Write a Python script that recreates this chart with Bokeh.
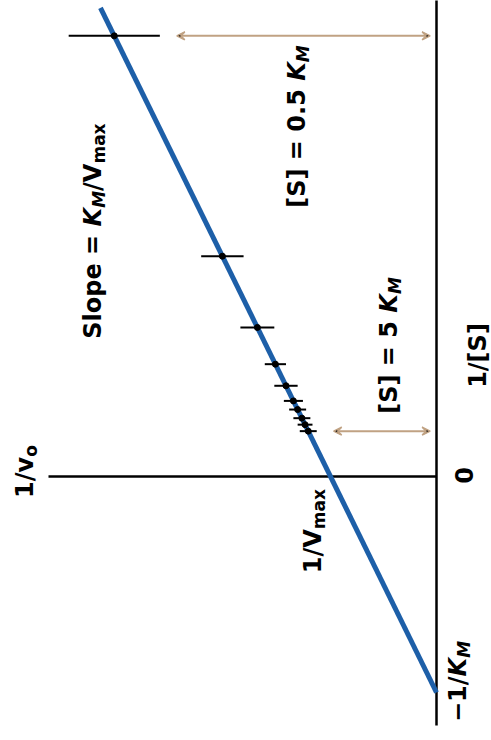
import math
from bokeh.plotting import figure
from bokeh.models import Range1d, Label, Arrow, VeeHead, ColumnDataSource
from bokeh.embed import file_html
from bokeh.resources import INLINE

# ---- data (Lineweaver-Burk plot, units where K_M = 1, V_max = 1) ----
inv_S = [2.04, 1.02, 0.69, 0.52, 0.42, 0.35, 0.31, 0.27, 0.24, 0.21]   # 1/[S]
inv_v = [3.04, 2.02, 1.69, 1.52, 1.42, 1.35, 1.31, 1.27, 1.24, 1.21]   # 1/v0
err_v = [0.43, 0.20, 0.16, 0.10, 0.11, 0.09, 0.08, 0.08, 0.07, 0.08]   # error on 1/v0
fit_inv_S = [-1.0, 2.17]
fit_inv_v = [0.0, 3.17]

BLUE = "#1d5fa8"
TAN = "#c0a283"

# The chart is drawn rotated: 1/v0 runs to the left, 1/[S] runs upward.
W_PX, H_PX = 491, 740
p = figure(width=W_PX, height=H_PX, output_backend="svg", toolbar_location=None,
           x_range=Range1d(436 / 106.0, (436 - W_PX) / 106.0),
           y_range=Range1d((476 - H_PX) / 216.0, 476 / 216.0),
           x_axis_location=None, y_axis_location=None, min_border=0)
p.grid.visible = False
p.outline_line_color = None
p.background_fill_color = "white"
p.border_fill_color = "white"

def P(X, Y):
    """reference pixel -> data (1/v0, 1/[S])"""
    return (436 - X) / 106.0, (476 - Y) / 216.0

# axes
_, u_bot = P(0, 725)
w_left, _ = P(48, 0)
p.segment(x0=[0], y0=[u_bot], x1=[0], y1=[2.3], line_color="black", line_width=2.5)
p.segment(x0=[0], y0=[0], x1=[w_left], y1=[0], line_color="black", line_width=2.5)

# fitted line
p.line(fit_inv_v, fit_inv_S, line_color=BLUE, line_width=5)

# error bars + points
src = ColumnDataSource(dict(
    u=inv_S, w=inv_v,
    lo=[v - e for v, e in zip(inv_v, err_v)],
    hi=[v + e for v, e in zip(inv_v, err_v)],
))
p.segment(x0="lo", y0="u", x1="hi", y1="u", source=src, line_color="black", line_width=2)
p.scatter("w", "u", source=src, size=6, color="black")

# double-headed arrows marking [S] = 0.5 K_M and [S] = 5 K_M
gap = 0.16
for k in (0, len(inv_S) - 1):
    p.add_layout(Arrow(
        start=VeeHead(size=8, line_color=TAN, line_width=1.5),
        end=VeeHead(size=8, line_color=TAN, line_width=1.5),
        x_start=inv_v[k] - err_v[k] - gap, y_start=inv_S[k],
        x_end=0.06, y_end=inv_S[k],
        line_color=TAN, line_width=2))

# ---- rotated rich text labels ----
ADV = {' ': 0.348, '1': 0.696, '0': 0.696, '5': 0.696, '/': 0.365, '[': 0.457, ']': 0.457,
       '=': 0.838, '.': 0.380, 'S': 0.720, 'l': 0.343, 'o': 0.687, 'p': 0.716, 'e': 0.678,
       'K': 0.775, 'M': 0.995, 'V': 0.774, 'm': 1.042, 'a': 0.675, 'x': 0.712, 'v': 0.652,
       '\u2212': 0.838}
FS, FSUB, SUBSHIFT = 24, 17, 6
FONT = "DejaVu Sans"
BASE_FIX = -9   # rendered baseline sits a little lower than the anchor

def width(t, size):
    return sum(ADV.get(c, 0.6) for c in t) * size

def rich(parts, X, Yc):
    total = sum(width(t, FSUB if sub else FS) for t, it, sub in parts)
    Y = Yc + total / 2.0
    for t, it, sub in parts:
        size = FSUB if sub else FS
        w, u = P(X + BASE_FIX + (SUBSHIFT if sub else 0), Y)
        p.add_layout(Label(x=w, y=u, text=t, angle=math.pi / 2, angle_units="rad",
                           text_font=FONT, text_font_size=f"{size}px",
                           text_font_style="bold italic" if it else "bold",
                           text_align="left", text_baseline="alphabetic",
                           text_color="black"))
        Y -= width(t, size)

rich([("1/v", False, False), ("o", False, True)], 33, 471)
rich([("Slope = ", False, False), ("K", True, False), ("M", True, True),
      ("/V", False, False), ("max", False, True)], 101, 230)
rich([("[S] = 0.5 ", False, False), ("K", True, False), ("M", True, True)], 305, 126)
rich([("[S] = 5 ", False, False), ("K", True, False), ("M", True, True)], 397, 345)
rich([("1/[S]", False, False)], 486, 355)
rich([("0", False, False)], 472, 475)
rich([("1/V", False, False), ("max", False, True)], 321, 530)
rich([("\u22121/", False, False), ("K", True, False), ("M", True, True)], 466, 681)

open("out.html", "w").write(file_html(p, INLINE))
